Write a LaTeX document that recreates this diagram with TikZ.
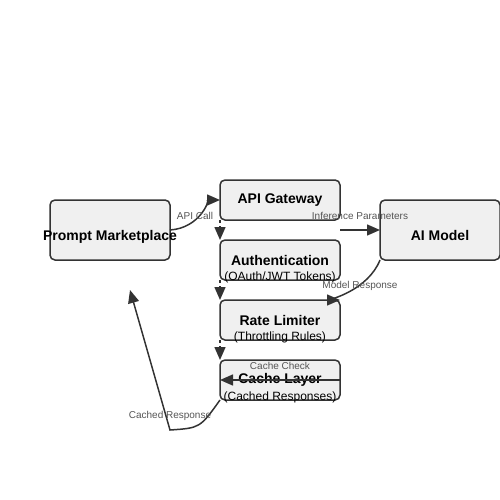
\documentclass[tikz,border=0pt]{standalone}
\usepackage{fontspec}
\setmainfont{Liberation Sans}
\usetikzlibrary{positioning,arrows.meta}
\definecolor{cBox}{HTML}{F0F0F0}
\definecolor{cLine}{HTML}{333333}
\definecolor{cLab}{HTML}{555555}
\tikzset{mybox/.style={
  shape=rectangle,
  rounded corners=5pt,
  draw=cLine,
  fill=cBox,
  line width=1.5pt,
  minimum width=120pt,
  minimum height=40pt,
  inner sep=0pt,
  outer sep=0pt,
  font=\fontsize{14}{16}\selectfont\bfseries,
  }
}
\tikzset{mybigbox/.style={
  mybox,
  minimum height=60pt,
  text height=20pt,
  text depth=0pt,
  }
}
\tikzset{mysub/.style={
  inner sep=0pt,
  text=black,
  font=\fontsize{12}{14}\selectfont,
  }
}
\tikzset{mylabel/.style={
  inner sep=0pt,
  text=cLab,
  font=\fontsize{10}{12}\selectfont,
  }
}
\tikzset{myedge/.style={
  draw=cLine,
  line width=1.5pt,
  -{Triangle[length=13pt,width=11pt]},
  }
}

\begin{document}
\begin{tikzpicture}[x=1pt,y=-1pt]
  \useasboundingbox (0,0) rectangle (500,500);

  \node [mybigbox] (market) at (110,230) {\makebox[0pt]{Prompt Marketplace}};
  \node [mybox] (gateway) at (280,200) {API Gateway};
  \node [mybox, below=20pt of gateway] (auth) {Authentication};
  \node [mybox, below=20pt of auth] (rate) {Rate Limiter};
  \node [mybox, below=20pt of rate] (cache) {Cache Layer};
  \node [mybigbox] (model) at (440,230) {AI Model};

  \node [mysub] (authsub) at ([yshift=-17pt]auth.center) {(OAuth/JWT Tokens)};
  \node [mysub] (ratesub) at ([yshift=-17pt]rate.center) {(Throttling Rules)};
  \node [mysub] (cachesub) at ([yshift=-17pt]cache.center) {(Cached Responses)};

  \coordinate (infer) at (340,230);
  \coordinate (bend) at (170,430);
  \coordinate (back) at (130,290);

  % connectors
  \draw [myedge] (market.east) .. controls (200,228) and (210,200) .. (gateway.west);
  \draw [myedge, dashed] (gateway.south west) -- (auth.north west);
  \draw [myedge, dashed] (auth.south west) -- (rate.north west);
  \draw [myedge, dashed] (rate.south west) -- (cache.north west);
  \draw [myedge] (infer) -- (model.west);
  \draw [myedge] (model.south west) .. controls (368,290) and (330,300) .. (rate.north east);
  \draw [myedge] (cache.east) -- (cache.west);
  \draw [myedge] (cache.south west) .. controls (200,428) .. (bend) -- (back);

  \node [mylabel] (lapi) at (195,216) {API Call};
  \node [mylabel] (linfer) at (360,216) {Inference Parameters};
  \node [mylabel] (lresp) at (360,286) {Model Response};
  \node [mylabel] (lcheck) at (280,366) {Cache Check};
  \node [mylabel] (lcached) at (170,416) {Cached Response};
\end{tikzpicture}
\end{document}
